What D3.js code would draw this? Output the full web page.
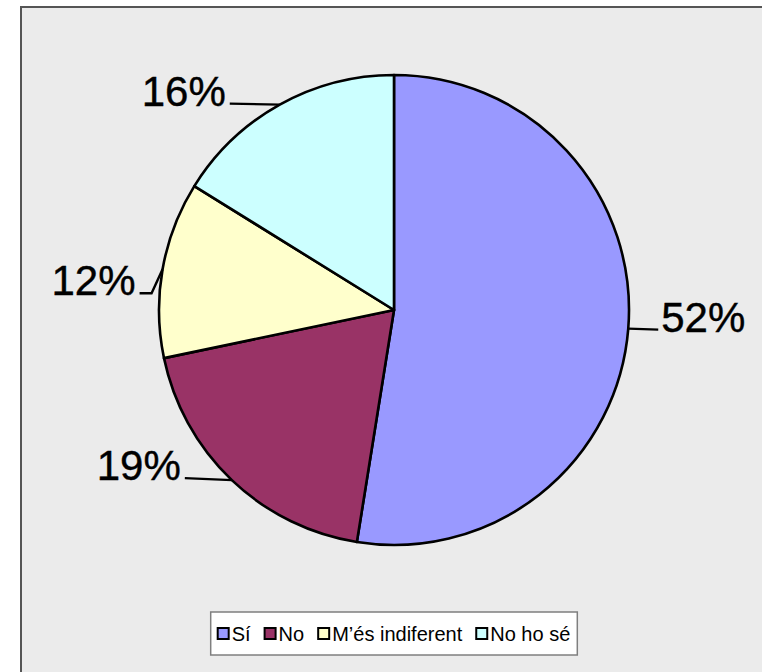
<!DOCTYPE html>
<html>
<head>
<meta charset="utf-8">
<script src="https://cdn.jsdelivr.net/npm/d3@7"></script>
<style>
  body { margin: 0; background: #fff; }
  text { font-family: "Liberation Sans", Arial, Helvetica, sans-serif; }
</style>
</head>
<body>
<svg width="762" height="672"></svg>
<script>
// data
var categories = ["Sí", "No", "M\u2019és indiferent", "No ho sé"];
var values = [52, 19, 12, 16];
var labels = ["52%", "19%", "12%", "16%"];

// styles
var colors = ["#9999FF", "#993366", "#FFFFCC", "#CCFFFF"];

// leader line layout: offsets from the slice mid point on the rim
var leaderEnd = [[30, 1], [-47, -2], [-23, 24], [-50, -1]];
var leaderElbow = [null, null, [-11, 24], null];

var svg = d3.select("svg");
var cx = 394, cy = 310, radius = 235;

// chart area frame (runs off the right/bottom edge like the original)
svg.append("rect")
    .attr("x", 21).attr("y", 7)
    .attr("width", 800).attr("height", 700)
    .attr("fill", "#EBEBEB")
    .attr("stroke", "#555")
    .attr("stroke-width", 2);

var pie = d3.pie().sort(null).value(function (d) { return d; });
var arc = d3.arc().innerRadius(0).outerRadius(radius);
var arcs = pie(values);

var gPie = svg.append("g")
    .attr("transform", "translate(" + cx + "," + cy + ")");

gPie.selectAll("path")
    .data(arcs)
    .enter().append("path")
    .attr("d", arc)
    .attr("fill", function (d, i) { return colors[i]; })
    .attr("stroke", "#000")
    .attr("stroke-width", 2.6)
    .attr("stroke-linejoin", "round");

// labels + leader lines
arcs.forEach(function (d, i) {
    var mid = (d.startAngle + d.endAngle) / 2;
    var px = cx + radius * Math.sin(mid);
    var py = cy - radius * Math.cos(mid);
    var pts = [[px, py]];
    if (leaderElbow[i]) pts.push([px + leaderElbow[i][0], py + leaderElbow[i][1]]);
    var ex = px + leaderEnd[i][0], ey = py + leaderEnd[i][1];
    pts.push([ex, ey]);

    svg.append("path")
        .attr("d", d3.line()(pts))
        .attr("fill", "none")
        .attr("stroke", "#000")
        .attr("stroke-width", 2.4);

    var right = Math.sin(mid) > 0;
    svg.append("text")
        .attr("x", right ? ex + 3 : ex - 4)
        .attr("y", ey + 2)
        .attr("text-anchor", right ? "start" : "end")
        .attr("font-size", 42)
        .attr("fill", "#000")
        .attr("stroke", "#000")
        .attr("stroke-width", 0.4)
        .text(labels[i]);
});

// legend
var legend = svg.append("g");
var box = legend.append("rect")
    .attr("fill", "#fff")
    .attr("stroke", "#7f7f7f")
    .attr("stroke-width", 1.5);

var x = 0;
var items = legend.append("g");
categories.forEach(function (c, i) {
    items.append("rect")
        .attr("x", x).attr("y", -13)
        .attr("width", 11).attr("height", 11)
        .attr("fill", colors[i])
        .attr("stroke", "#000")
        .attr("stroke-width", 2);
    var t = items.append("text")
        .attr("x", x + 14)
        .attr("y", 0)
        .attr("font-size", 20)
        .text(c);
    x += 14 + t.node().getComputedTextLength() + 14;
});
var w = x - 14;
var lx = cx - w / 2, ly = 641;
items.attr("transform", "translate(" + lx + "," + ly + ")");
box.attr("x", lx - 7).attr("y", 612)
    .attr("width", w + 14).attr("height", 43);
</script>
</body>
</html>
